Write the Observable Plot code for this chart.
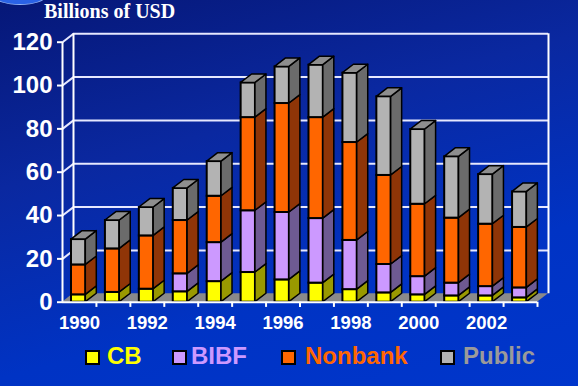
<!DOCTYPE html>
<html><head><meta charset="utf-8">
<script src="https://cdn.jsdelivr.net/npm/d3@7"></script>
<script src="https://cdn.jsdelivr.net/npm/@observablehq/plot@0.6"></script>
<style>
html,body{margin:0;padding:0;}
body{width:578px;height:386px;overflow:hidden;position:relative;
 background:linear-gradient(165deg,#061777 0%,#0a28a0 35%,#0033c4 70%,#0036cc 100%);
 font-family:"Liberation Sans",Arial,sans-serif;}
#logo{position:absolute;left:-6px;top:-13px;width:50px;height:16px;border-radius:50%;background:#2a62e6;border:1px solid #8fb0f5;}
#title{position:absolute;left:44px;top:0px;font:bold 20px "Liberation Serif","Times New Roman",serif;color:#fff;line-height:22px;white-space:nowrap;}
#chart{position:absolute;left:0;top:25px;}
.sw{position:absolute;top:350px;width:11px;height:11px;border:2px solid #000;}
.lt{position:absolute;top:342px;font:bold 24px "Liberation Sans",Arial,sans-serif;line-height:28px;white-space:nowrap;}
</style></head><body>
<div id="logo"></div>
<div id="title">Billions of USD</div>
<div id="chart"></div>
<div id="legend"></div>
<script>
const years   = [1990,1991,1992,1993,1994,1995,1996,1997,1998,1999,2000,2001,2002,2003];
const cb      = [3.4, 4.5, 6.0, 4.8, 9.5, 13.7, 10.3, 8.8, 5.8, 4.3, 3.4, 2.9, 2.9, 2.0];
const bibf    = [0,   0,   0,   8.3, 18.0, 28.5, 31.1, 29.8, 22.7, 13.1, 8.4, 5.9, 4.3, 4.6];
const nonbank = [13.8, 20.1, 24.6, 24.6, 21.4, 43.0, 50.3, 46.6, 45.2, 41.1, 33.4, 30.0, 28.8, 27.9];
const publicDebt = [11.7, 13.1, 13.1, 14.8, 16.0, 16.0, 16.9, 24.2, 32.0, 36.3, 34.5, 28.3, 22.9, 16.4];
const seriesNames = ["CB","BIBF","Nonbank","Public"];
const frontColors = ["#ffff00","#cc99ff","#ff6600","#b3b3b3"];
const sideColors  = ["#999900","#6e5a92","#8f3507","#6b6b6b"];
const legendText  = ["#ffff00","#cc99ff","#ff6600","#9a9a9a"];
const yTicks = [0,20,40,60,80,100,120];
const labelYears = [1990,1992,1994,1996,1998,2000,2002];

const values = [cb, bibf, nonbank, publicDebt];
const dxs = 0.324, dyv = 3.9;      // 3D depth offsets (slot units, value units)
const xl = 0.265, xr = 0.687;      // front face extent inside each slot

const segs = [], sides = [], tops = [];
years.forEach((yr, i) => {
  let base = 0;
  values.forEach((arr, s) => {
    const v = arr[i];
    if (v > 0) {
      const key = i + "-" + s;
      segs.push({key, x1: i + xl, x2: i + xr, lo: base, hi: base + v, fill: frontColors[s]});
      sides.push({key, x: i + xr, y1: base, y2: base + v, fill: sideColors[s]});
      sides.push({key, x: i + xr + dxs, y1: base + dyv, y2: base + v + dyv, fill: sideColors[s]});
    }
    base += v;
  });
  const t = base, k = "top" + i;
  tops.push({key: k, x: i + xl, y1: t, y2: t});
  tops.push({key: k, x: i + xl + dxs, y1: t, y2: t + dyv});
  tops.push({key: k, x: i + xr, y1: t, y2: t + dyv});
  tops.push({key: k, x: i + xr + dxs, y1: t + dyv, y2: t + dyv});
});
const n = years.length;
const floor = [
  {x: 0, y1: 0, y2: 0}, {x: dxs, y1: 0, y2: dyv},
  {x: n, y1: 0, y2: dyv}, {x: n + dxs, y1: dyv, y2: dyv}
];
const grid = yTicks.filter(d => d > 0);
const W = "#ffffff", G = "#e6e8ff";

const chart = Plot.plot({
  width: 578, height: 315,
  marginLeft: 62, marginRight: 41, marginTop: 16.7, marginBottom: 38.3,
  style: {background: "transparent", color: "white", overflow: "visible"},
  x: {type: "linear", domain: [0, n], axis: null},
  y: {domain: [0, 120], axis: null},
  color: {type: "identity"},
  marks: [
    Plot.ruleY(grid, {y: d => d + dyv, x1: dxs, x2: n + dxs, stroke: G, strokeWidth: 2}),
    Plot.link(grid, {x1: 0, y1: d => d, x2: dxs, y2: d => d + dyv, stroke: G, strokeWidth: 2}),
    Plot.ruleX([dxs, n + dxs], {y1: dyv, y2: 120 + dyv, stroke: W, strokeWidth: 2}),
    Plot.areaY(floor, {x: "x", y1: "y1", y2: "y2", fill: "#8a8a8a"}),
    Plot.rect(segs, {x1: "x1", x2: "x2", y1: "lo", y2: "hi", fill: "fill", stroke: "#000", strokeWidth: 2}),
    Plot.areaY(sides, {x: "x", y1: "y1", y2: "y2", z: "key", fill: "fill", stroke: "#000", strokeWidth: 1.5}),
    Plot.areaY(tops, {x: "x", y1: "y1", y2: "y2", z: "key", fill: "#8e8e8e", stroke: "#000", strokeWidth: 1.5}),
    Plot.ruleX([0], {y1: 0, y2: 120, stroke: W, strokeWidth: 2}),
    Plot.ruleY([0], {x1: 0, x2: n, stroke: W, strokeWidth: 2}),
    Plot.ruleX(d3.range(1, n + 1), {y1: 0, y2: -2.4, stroke: W, strokeWidth: 2}),
    Plot.axisY({ticks: yTicks, anchor: "left", tickSize: 5, tickPadding: 5, fontSize: 24, fontWeight: "bold",
      fontFamily: "Liberation Sans, Arial, sans-serif", stroke: W, strokeWidth: 2, fill: W, label: null}),
    Plot.text(labelYears, {x: d => years.indexOf(d) + 0.5, y: 0, dy: 21, text: d => String(d),
      fontSize: 18.5, fontWeight: "bold", fontFamily: "Liberation Sans, Arial, sans-serif", fill: W})
  ]
});
document.getElementById("chart").appendChild(chart);

const legendX = [[85, 107], [172, 191], [281, 305], [440, 463]];
const leg = document.getElementById("legend");
seriesNames.forEach((name, s) => {
  const sw = document.createElement("div");
  sw.className = "sw"; sw.style.left = legendX[s][0] + "px"; sw.style.background = frontColors[s];
  leg.appendChild(sw);
  const t = document.createElement("div");
  t.className = "lt"; t.style.left = legendX[s][1] + "px"; t.style.color = legendText[s];
  t.textContent = name;
  leg.appendChild(t);
});
</script>
</body></html>
